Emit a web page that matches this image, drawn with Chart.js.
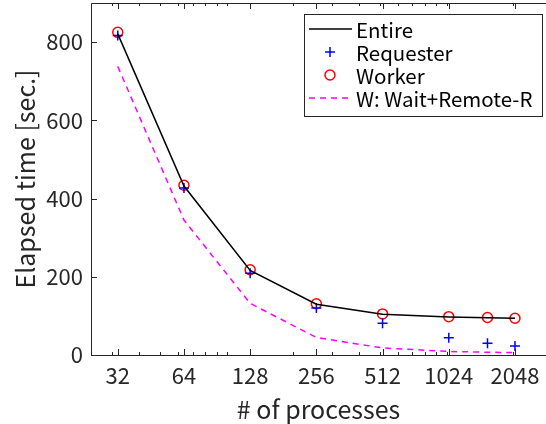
<!DOCTYPE html>
<html>
<head>
<meta charset="utf-8">
<script src="https://cdn.jsdelivr.net/npm/chart.js@4/dist/chart.umd.min.js"></script>
<style>
  html, body { margin: 0; padding: 0; background: #fff; overflow: hidden; }
  #wrap { width: 546px; height: 424px; }
</style>
</head>
<body>
<div id="wrap"><canvas id="grafico"></canvas></div>
<script>
// datos
const procesos = [32, 64, 128, 256, 512, 1024, 1536, 2048];
const entire = [821, 432, 216, 130, 104, 97, 95, 94];
const requester = [817, 427, 209, 120, 81, 44, 30, 23];
const worker = [825, 434, 218, 131, 105, 98, 96, 94];
const waitRemote = [738, 345, 132, 45, 18, 9, 7, 6];

const xTicks = [32, 64, 128, 256, 512, 1024, 2048];
const xMinor = [30, 40, 50, 60, 70, 80, 90, 100, 200, 300, 400, 500, 600, 700, 800, 900, 1000, 2000];
const yTicks = [0, 200, 400, 600, 800];

const fuente = '"Noto Sans CJK JP", "Noto Sans", sans-serif';
const ejeColor = '#262626';

const puntos = arr => procesos.map((p, i) => ({ x: p, y: arr[i] }));

// ticks hacia adentro y marco
const marcoPlugin = {
  id: 'marco',
  afterDatasetsDraw(chart) {
    const ctx = chart.ctx;
    const ca = chart.chartArea;
    const xs = chart.scales.x;
    const ys = chart.scales.y;
    ctx.save();
    ctx.strokeStyle = ejeColor;
    ctx.lineWidth = 1;
    ctx.beginPath();
    // marco
    ctx.moveTo(ca.left + 0.5, ca.top + 0.5);
    ctx.lineTo(ca.right + 2, ca.top + 0.5);
    ctx.moveTo(ca.left + 0.5, ca.top + 0.5);
    ctx.lineTo(ca.left + 0.5, ca.bottom + 0.5);
    ctx.lineTo(ca.right + 2, ca.bottom + 0.5);
    xTicks.forEach(v => {
      const px = Math.round(xs.getPixelForValue(v)) + 0.5;
      ctx.moveTo(px, ca.bottom);
      ctx.lineTo(px, ca.bottom - 6);
      ctx.moveTo(px, ca.top);
      ctx.lineTo(px, ca.top + 6);
    });
    xMinor.forEach(v => {
      const px = Math.round(xs.getPixelForValue(v)) + 0.5;
      ctx.moveTo(px, ca.bottom);
      ctx.lineTo(px, ca.bottom - 3);
      ctx.moveTo(px, ca.top);
      ctx.lineTo(px, ca.top + 3);
    });
    yTicks.forEach(v => {
      const py = Math.round(ys.getPixelForValue(v)) + 0.5;
      ctx.moveTo(ca.left, py);
      ctx.lineTo(ca.left + 6, py);
    });
    ctx.stroke();
    ctx.restore();
  }
};

// leyenda dibujada a mano
const leyendaPlugin = {
  id: 'leyenda',
  afterDraw(chart) {
    const ctx = chart.ctx;
    const x0 = 304, y0 = 14, w = 238, h = 102;
    ctx.save();
    ctx.fillStyle = '#fff';
    ctx.fillRect(x0, y0, w, h);
    ctx.strokeStyle = ejeColor;
    ctx.lineWidth = 1;
    ctx.strokeRect(x0 + 0.5, y0 + 0.5, w, h);
    ctx.font = '20.5px ' + fuente;
    ctx.textBaseline = 'middle';
    const filas = [
      { txt: 'Entire', tipo: 'linea', color: '#000', dash: [] },
      { txt: 'Requester', tipo: 'cruz', color: '#0000ff' },
      { txt: 'Worker', tipo: 'circulo', color: '#ff0000' },
      { txt: 'W: Wait+Remote-R', tipo: 'linea', color: '#ff00ff', dash: [6, 5] }
    ];
    filas.forEach((f, i) => {
      const cy = y0 + 15 + i * 23;
      ctx.strokeStyle = f.color;
      ctx.lineWidth = 1.5;
      if (f.tipo === 'linea') {
        ctx.setLineDash(f.dash);
        ctx.beginPath();
        ctx.moveTo(309, cy);
        ctx.lineTo(352, cy);
        ctx.stroke();
        ctx.setLineDash([]);
      } else if (f.tipo === 'cruz') {
        ctx.beginPath();
        ctx.moveTo(325, cy); ctx.lineTo(335, cy);
        ctx.moveTo(330, cy - 5); ctx.lineTo(330, cy + 5);
        ctx.stroke();
      } else {
        ctx.beginPath();
        ctx.arc(330, cy, 5, 0, Math.PI * 2);
        ctx.stroke();
      }
      ctx.fillStyle = '#000';
      ctx.fillText(f.txt, 356, cy + 1);
    });
    ctx.restore();
  }
};

const graficoChart = new Chart(document.getElementById('grafico'), {
  type: 'line',
  data: {
    datasets: [
      {
        label: 'Entire',
        data: puntos(entire),
        borderColor: '#000',
        borderWidth: 1.5,
        pointRadius: 0,
        tension: 0
      },
      {
        label: 'Requester',
        data: puntos(requester),
        showLine: false,
        pointStyle: 'cross',
        pointRadius: 5,
        pointBorderColor: '#0000ff',
        pointBorderWidth: 1.5
      },
      {
        label: 'Worker',
        data: puntos(worker),
        showLine: false,
        pointStyle: 'circle',
        pointRadius: 5,
        pointBorderColor: '#ff0000',
        pointBackgroundColor: 'rgba(0,0,0,0)',
        pointBorderWidth: 1.5
      },
      {
        label: 'W: Wait+Remote-R',
        data: puntos(waitRemote),
        borderColor: '#ff00ff',
        borderWidth: 1.5,
        borderDash: [6, 5],
        pointRadius: 0,
        tension: 0
      }
    ]
  },
  options: {
    responsive: true,
    maintainAspectRatio: false,
    animation: false,
    layout: { autoPadding: false, padding: { top: 3, right: 0, left: 0, bottom: 0 } },
    plugins: {
      legend: { display: false },
      tooltip: { enabled: false }
    },
    scales: {
      x: {
        type: 'logarithmic',
        min: 24.18,
        max: 2834,
        grid: { display: false, drawTicks: false },
        border: { display: false },
        afterBuildTicks: s => { s.ticks = xTicks.map(v => ({ value: v })); },
        afterFit: s => { s.height = 69; s.paddingLeft = 0; s.paddingRight = 0; },
        ticks: {
          autoSkip: false,
          maxRotation: 0,
          padding: 7,
          color: ejeColor,
          font: { family: fuente, size: 22 },
          callback: v => String(v)
        },
        title: {
          display: true,
          text: '# of processes',
          color: ejeColor,
          padding: { top: 0, bottom: 0 },
          font: { family: fuente, size: 25 }
        }
      },
      y: {
        min: 0,
        max: 900,
        grid: { display: false, drawTicks: false },
        border: { display: false },
        afterBuildTicks: s => { s.ticks = yTicks.map(v => ({ value: v })); },
        afterFit: s => { s.width = 91; s.paddingTop = 0; s.paddingBottom = 0; },
        ticks: {
          padding: 8,
          color: ejeColor,
          font: { family: fuente, size: 22 }
        },
        title: {
          display: true,
          text: 'Elapsed time [sec.]',
          color: ejeColor,
          padding: { top: 10, bottom: 0 },
          font: { family: fuente, size: 25 }
        }
      }
    }
  },
  plugins: [marcoPlugin, leyendaPlugin]
});
</script>
</body>
</html>
